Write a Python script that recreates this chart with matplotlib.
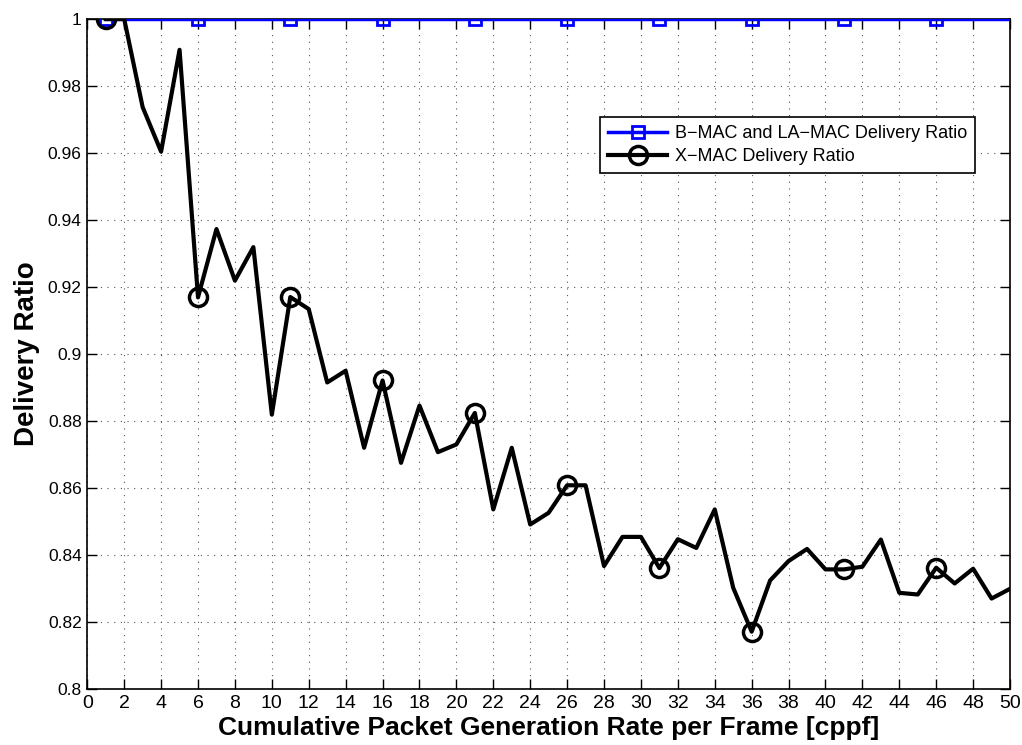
import matplotlib
matplotlib.use("Agg")
import matplotlib.pyplot as plt
from matplotlib.lines import Line2D

# Data
rate = list(range(1, 51))
bmac_ratio = [1.0] * 50
xmac_ratio = [1.0, 1.0, 0.9737, 0.9604, 0.9908, 0.9169, 0.9373, 0.9219, 0.9319, 0.8819,
              0.9170, 0.9134, 0.8915, 0.8950, 0.8720, 0.8921, 0.8675, 0.8846, 0.8707, 0.8730,
              0.8824, 0.8536, 0.8720, 0.8491, 0.8526, 0.8608, 0.8608, 0.8367, 0.8454, 0.8454,
              0.8361, 0.8447, 0.8421, 0.8536, 0.8302, 0.8171, 0.8324, 0.8382, 0.8418, 0.8357,
              0.8357, 0.8365, 0.8446, 0.8287, 0.8282, 0.8362, 0.8315, 0.8359, 0.8270, 0.8299]

x_ticks = list(range(0, 51, 2))
y_ticks = [0.8, 0.82, 0.84, 0.86, 0.88, 0.9, 0.92, 0.94, 0.96, 0.98, 1.0]
y_tick_labels = ['0.8', '0.82', '0.84', '0.86', '0.88', '0.9', '0.92', '0.94', '0.96', '0.98', '1']

bmac_label = 'B\u2212MAC and LA\u2212MAC Delivery Ratio'
xmac_label = 'X\u2212MAC Delivery Ratio'

plt.rcParams['font.family'] = ['Liberation Sans', 'DejaVu Sans']

fig = plt.figure(figsize=(10.22, 7.45), dpi=100)
ax = fig.add_axes([0.0854, 0.0752, 0.9029, 0.8993])

blue_style = dict(color='#0000ff', lw=2.5, marker='s', markersize=9,
                  markerfacecolor='none', markeredgewidth=2)
black_style = dict(color='black', lw=3, marker='o', markersize=13,
                   markerfacecolor='none', markeredgewidth=2.5)

ax.plot(rate, bmac_ratio, markevery=5, zorder=3, **blue_style)
ax.plot(rate, xmac_ratio, markevery=5, zorder=4, **black_style)

ax.set_xlim(0, 50)
ax.set_ylim(0.8, 1.0)
ax.set_xticks(x_ticks)
ax.set_yticks(y_ticks)
ax.set_yticklabels(y_tick_labels)
for lbl in ax.get_xticklabels():
    lbl.set_fontsize(14)
for lbl in ax.get_yticklabels():
    lbl.set_fontsize(12.5)

ax.tick_params(direction='in', top=True, right=True, length=7, width=1, pad=4)
ax.grid(True, color='#555555', linestyle=(0, (1, 5)), lw=0.8)
for sp in ax.spines.values():
    sp.set_linewidth(1.2)

ax.set_xlabel('Cumulative Packet Generation Rate per Frame [cppf]',
              fontsize=19, fontweight='bold', labelpad=3)
ax.set_ylabel('Delivery Ratio', fontsize=20, fontweight='bold', labelpad=6)

handles = [Line2D([], [], **blue_style), Line2D([], [], **black_style)]
leg = ax.legend(handles, [bmac_label, xmac_label], loc='upper right',
                bbox_to_anchor=(0.962, 0.854), borderaxespad=0,
                fancybox=False, edgecolor='black', framealpha=1, fontsize=13,
                handlelength=3.3, handletextpad=0.4, borderpad=0.45, labelspacing=0.35)
leg.get_frame().set_linewidth(1.2)

fig.savefig('out.png', dpi=100)
